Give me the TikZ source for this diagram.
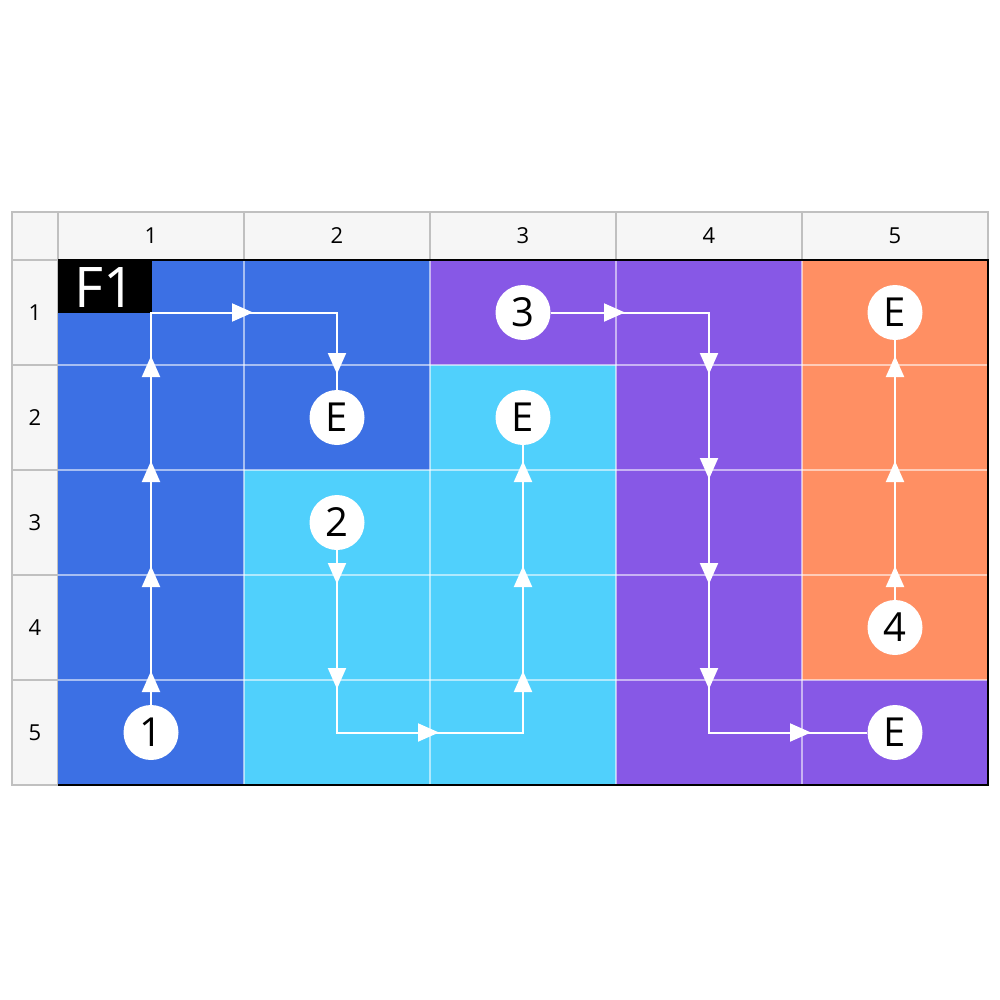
\documentclass[tikz,border=0pt]{standalone}
\usepackage{fontspec}
\setmainfont{Open Sans}
\usetikzlibrary{arrows.meta}
\definecolor{cblue}{RGB}{60,112,228}
\definecolor{ccyan}{RGB}{80,208,252}
\definecolor{cpurple}{RGB}{135,88,230}
\definecolor{corange}{RGB}{255,143,99}
\definecolor{hdrfill}{RGB}{246,246,246}
\definecolor{hdrline}{RGB}{192,192,192}
\tikzset{
  hdrcell/.style={fill=hdrfill,draw=hdrline,line width=2pt},
  hdrtext/.style={font=\fontsize{22}{22}\selectfont,text=black},
  gridln/.style={draw=white,draw opacity=0.55,line width=2pt},
  flow/.style={draw=white,line width=2pt},
  mk/.style={draw=white,line width=2pt,-{Triangle[length=21pt,width=18pt]}},
  badge/.style={circle,fill=white,minimum size=55pt,inner sep=0pt,font=\fontsize{40}{40}\selectfont,text=black},
}
\begin{document}
\begin{tikzpicture}[x=1pt,y=-1pt]
\useasboundingbox (0,0) rectangle (1000,1000);
\fill[white] (0,0) rectangle (1000,1000);
% header
\draw[hdrcell] (12,212) rectangle (58,260);
\foreach \j in {1,...,5} {
  \draw[hdrcell] ({58+186*(\j-1)},212) rectangle ({58+186*\j},260);
  \node[hdrtext] (ch\j) at ({58+186*(\j-1)+93},236) {\j};
  \draw[hdrcell] (12,{260+105*(\j-1)}) rectangle (58,{260+105*\j});
  \node[hdrtext] (rh\j) at (35,{260+105*(\j-1)+52.5}) {\j};
}
% cells
\foreach \r/\row in {1/{cblue,cblue,cpurple,cpurple,corange},
                     2/{cblue,cblue,ccyan,cpurple,corange},
                     3/{cblue,ccyan,ccyan,cpurple,corange},
                     4/{cblue,ccyan,ccyan,cpurple,corange},
                     5/{cblue,ccyan,ccyan,cpurple,cpurple}} {
  \foreach \col [count=\c] in \row {
    \fill[\col] ({58+186*(\c-1)},{260+105*(\r-1)}) rectangle ({58+186*\c},{260+105*\r});
  }
}
% grid lines
\foreach \c in {1,...,4} \draw[gridln] ({58+186*\c},260) -- ({58+186*\c},785);
\foreach \r in {1,...,4} \draw[gridln] (58,{260+105*\r}) -- (988,{260+105*\r});
% border
\draw[black,line width=1.8pt] (58,260) -- (988,260) -- (988,785) -- (58,785);
% F1 box
\fill[black] (58,260) rectangle (152,313);
\node[text=white,font=\fontsize{56}{56}\selectfont,anchor=center] (f1) at (105,288) {F1};
% badges
\node[badge] (n1) at (151,732.5) {1};
\node[badge] (e1) at (337,417.5) {E};
\node[badge] (n2) at (337,522.5) {2};
\node[badge] (e2) at (523,417.5) {E};
\node[badge] (n3) at (523,312.5) {3};
\node[badge] (e3) at (895,732.5) {E};
\node[badge] (n4) at (895,627.5) {4};
\node[badge] (e4) at (895,312.5) {E};
% corners
\coordinate (a1) at (151,312.5);
\coordinate (a2) at (337,312.5);
\coordinate (b1) at (337,732.5);
\coordinate (b2) at (523,732.5);
\coordinate (d1) at (709,312.5);
\coordinate (d2) at (709,732.5);
% flows
\begin{scope}[on background layer/.style={}]
\end{scope}
\draw[flow] (n1) -- (a1) -- (a2) -- (e1);
\draw[flow] (n2) -- (b1) -- (b2) -- (e2);
\draw[flow] (n3) -- (d1) -- (d2) -- (e3);
\draw[flow] (n4) -- (e4);
% markers: up
\foreach \x/\b in {151/680,151/575,151/470,151/365,523/680,523/575,523/470,895/575,895/470,895/365}
  \draw[mk] (\x,\b+12) -- (\x,\b-9);
% down
\foreach \x/\b in {337/365,337/575,337/680,709/365,709/470,709/575,709/680}
  \draw[mk] (\x,\b-12) -- (\x,\b+9);
% right
\foreach \y/\b in {312.5/244,732.5/430,312.5/616,732.5/802}
  \draw[mk] (\b-12,\y) -- (\b+9,\y);
% redraw badges on top
\foreach \n in {n1,e1,n2,e2,n3,e3,n4,e4} {}
\end{tikzpicture}
\end{document}
